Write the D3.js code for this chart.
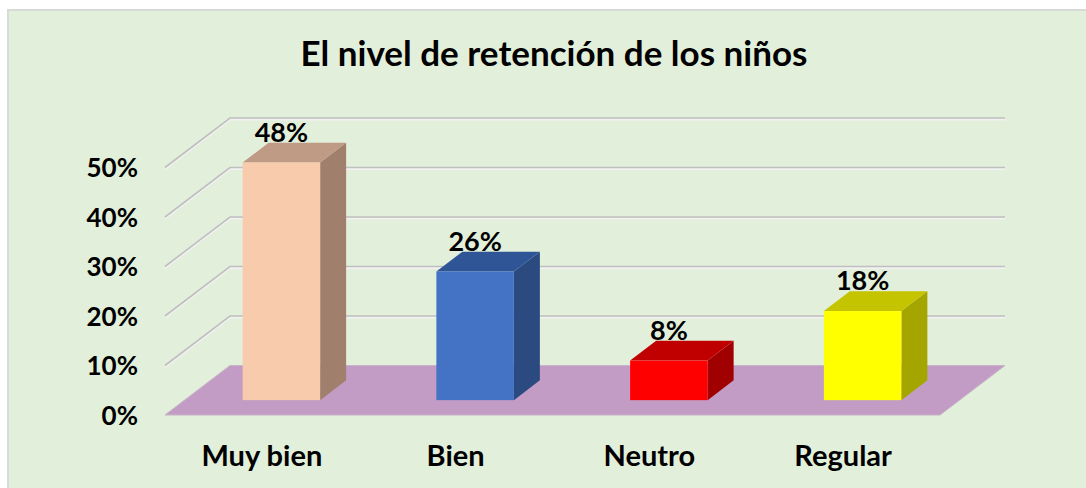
<!DOCTYPE html>
<html>
<head>
<meta charset="utf-8">
<script src="https://cdn.jsdelivr.net/npm/d3@7"></script>
<style>
  html, body { margin: 0; padding: 0; background: #fff; }
  svg { display: block; }
  text { font-family: Lato, "Open Sans", sans-serif; font-weight: bold; fill: #000; }
</style>
</head>
<body>
<svg id="chart" width="1086" height="488"></svg>
<script>
// datos
const categories = ["Muy bien", "Bien", "Neutro", "Regular"];
const values = [0.48, 0.26, 0.08, 0.18];
const yTicks = [0, 0.1, 0.2, 0.3, 0.4, 0.5];
const frontColors = ["#F8CBAD", "#4472C4", "#FF0000", "#FFFF00"];
const topColors = ["#BF9A84", "#2F5597", "#C00000", "#C4C400"];
const sideColors = ["#A0806C", "#2B4A80", "#A00000", "#A5A500"];
const title = "El nivel de retención de los niños";

const svg = d3.select("#chart");

// fondo del grafico
svg.append("rect")
  .attr("x", 8).attr("y", 10).attr("width", 1100).attr("height", 500)
  .attr("fill", "#E2EFDA").attr("stroke", "#D9D9D9").attr("stroke-width", 2);

svg.append("text")
  .attr("x", 554).attr("y", 66)
  .attr("text-anchor", "middle")
  .style("font-size", "35px")
  .text(title);

// perspectiva
const DX = 65, DY = -49.5;
const x = d3.scaleBand().domain(categories).range([165, 940]);
const y = d3.scaleLinear().domain([0, 0.5]).range([415, 167.5]);
const t0 = 0.3, t1 = 0.7;   // profundidad de las barras
const barW = x.bandwidth() * 0.4;

// piso
const x0 = x.range()[0], x1 = x.range()[1], y0 = y(0);
svg.append("path")
  .attr("d", `M${x0},${y0}L${x1},${y0}L${x1 + DX},${y0 + DY}L${x0 + DX},${y0 + DY}Z`)
  .attr("fill", "#C29CC5").attr("stroke", "#C8B4C8").attr("stroke-width", 1);

// lineas de cuadricula
const grid = svg.append("g");
yTicks.filter(t => t > 0).forEach(t => {
  const pts = `M${x0},${y(t)}L${x0 + DX},${y(t) + DY}L${x1 + DX},${y(t) + DY}`;
  grid.append("path").attr("d", pts).attr("fill", "none")
    .attr("stroke", "#F2F2F2").attr("stroke-width", 2).attr("transform", "translate(0,1.5)");
  grid.append("path").attr("d", pts).attr("fill", "none")
    .attr("stroke", "#BFBFBF").attr("stroke-width", 1.6);
});

// eje y
svg.append("g").selectAll("text")
  .data(yTicks)
  .join("text")
  .attr("x", 138)
  .attr("y", d => y(d) + 3)
  .attr("text-anchor", "end")
  .attr("dominant-baseline", "middle")
  .style("font-size", "26px")
  .text(d => d3.format(".0%")(d));

// barras
const bars = svg.append("g").selectAll("g")
  .data(values)
  .join("g");

bars.each(function(v, i) {
  const g = d3.select(this);
  const bx = x(categories[i]) + (x.bandwidth() - barW) / 2 + DX * t0;
  const by = y(0) + DY * t0;
  const top = y(v) + DY * t0;
  const ddx = DX * (t1 - t0), ddy = DY * (t1 - t0);
  // lado
  g.append("path")
    .attr("d", `M${bx + barW},${by}L${bx + barW + ddx},${by + ddy}L${bx + barW + ddx},${top + ddy}L${bx + barW},${top}Z`)
    .attr("fill", sideColors[i]);
  // tapa
  g.append("path")
    .attr("d", `M${bx},${top}L${bx + barW},${top}L${bx + barW + ddx},${top + ddy}L${bx + ddx},${top + ddy}Z`)
    .attr("fill", topColors[i]);
  // frente
  g.append("rect")
    .attr("x", bx).attr("y", top).attr("width", barW).attr("height", by - top)
    .attr("fill", frontColors[i]);
  // etiqueta
  g.append("text")
    .attr("x", bx + barW / 2)
    .attr("y", top + ddy - 1)
    .attr("text-anchor", "middle")
    .style("font-size", "27px")
    .text(d3.format(".0%")(v));
});

// categorias
svg.append("g").selectAll("text")
  .data(categories)
  .join("text")
  .attr("x", d => x(d) + x.bandwidth() / 2)
  .attr("y", 466)
  .attr("text-anchor", "middle")
  .style("font-size", "29px")
  .text(d => d);
</script>
</body>
</html>
